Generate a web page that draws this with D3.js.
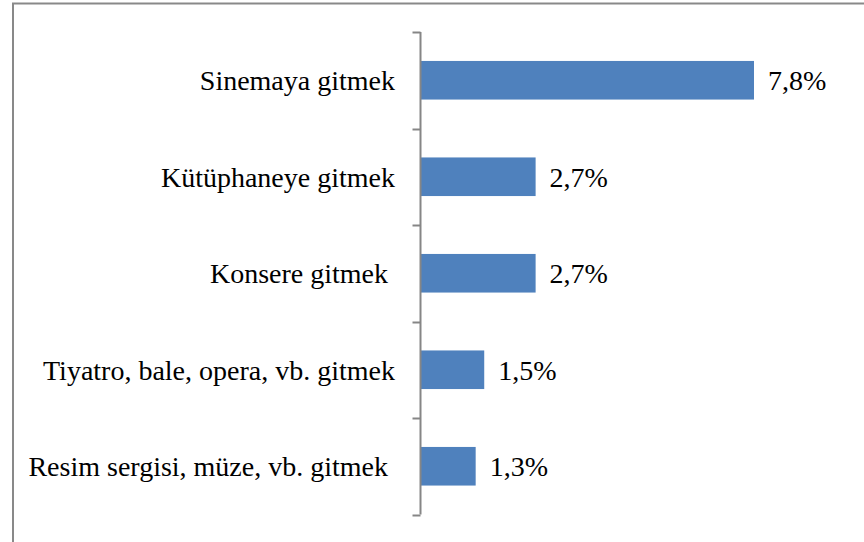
<!DOCTYPE html>
<html>
<head>
<meta charset="utf-8">
<script src="https://cdn.jsdelivr.net/npm/d3@7"></script>
<style>
  html, body { margin: 0; padding: 0; background: #fff; }
  svg { display: block; }
  svg text { font-family: 'Liberation Serif', Tinos, 'Times New Roman', Times, 'DejaVu Serif', serif; }
</style>
</head>
<body>
<script>
// data
const categories = [
    'Sinemaya gitmek',
    'Kütüphaneye gitmek',
    'Konsere gitmek ',
    'Tiyatro, bale, opera, vb. gitmek',
    'Resim sergisi, müze, vb. gitmek '
];
const values = [7.8, 2.7, 2.7, 1.5, 1.3];
const valueLabels = ['7,8%', '2,7%', '2,7%', '1,5%', '1,3%'];

const width = 864, height = 542;

const svg = d3.select('body').append('svg')
    .attr('width', width)
    .attr('height', height);

// chart border (runs off the right and bottom edges)
svg.append('rect')
    .attr('x', 13).attr('y', 3.5)
    .attr('width', 900).attr('height', 600)
    .attr('fill', 'none')
    .attr('stroke', '#898989')
    .attr('stroke-width', 2);

const axisX = 420.5;
const plotTop = 32, plotBottom = 514.5;

const x = d3.scaleLinear()
    .domain([0, 7.8])
    .range([axisX - 0.5, 754]);

const y = d3.scaleBand()
    .domain(categories)
    .range([plotTop, plotBottom])
    .paddingInner(0.6)
    .paddingOuter(0.3);

// bars
svg.selectAll('rect.bar')
    .data(values)
    .join('rect')
    .attr('class', 'bar')
    .attr('x', x(0))
    .attr('y', (d, i) => y(categories[i]))
    .attr('width', d => x(d) - x(0))
    .attr('height', y.bandwidth())
    .attr('fill', '#4F81BD');

// category axis with ticks at band boundaries
const g = svg.append('g').attr('stroke', '#868686').attr('stroke-width', 2);
g.append('line')
    .attr('x1', axisX).attr('x2', axisX)
    .attr('y1', plotTop).attr('y2', plotBottom);
const step = (plotBottom - plotTop) / categories.length;
d3.range(categories.length + 1).forEach(i => {
    const ty = Math.round(plotTop + i * step) + 0.5;
    g.append('line')
        .attr('x1', axisX - 8).attr('x2', axisX)
        .attr('y1', ty).attr('y2', ty);
});

// category labels
svg.selectAll('text.cat')
    .data(categories)
    .join('text')
    .attr('class', 'cat')
    .attr('x', 395)
    .attr('y', d => y(d) + y.bandwidth() / 2)
    .attr('dy', '0.35em')
    .attr('text-anchor', 'end')
    .style('white-space', 'pre')
    .attr('font-size', 28)
    .attr('fill', '#000')
    .text(d => d);

// value labels
svg.selectAll('text.val')
    .data(values)
    .join('text')
    .attr('class', 'val')
    .attr('x', d => x(d) + 14)
    .attr('y', (d, i) => y(categories[i]) + y.bandwidth() / 2)
    .attr('dy', '0.35em')
    .attr('font-size', 28)
    .attr('fill', '#000')
    .text((d, i) => valueLabels[i]);
</script>
</body>
</html>
